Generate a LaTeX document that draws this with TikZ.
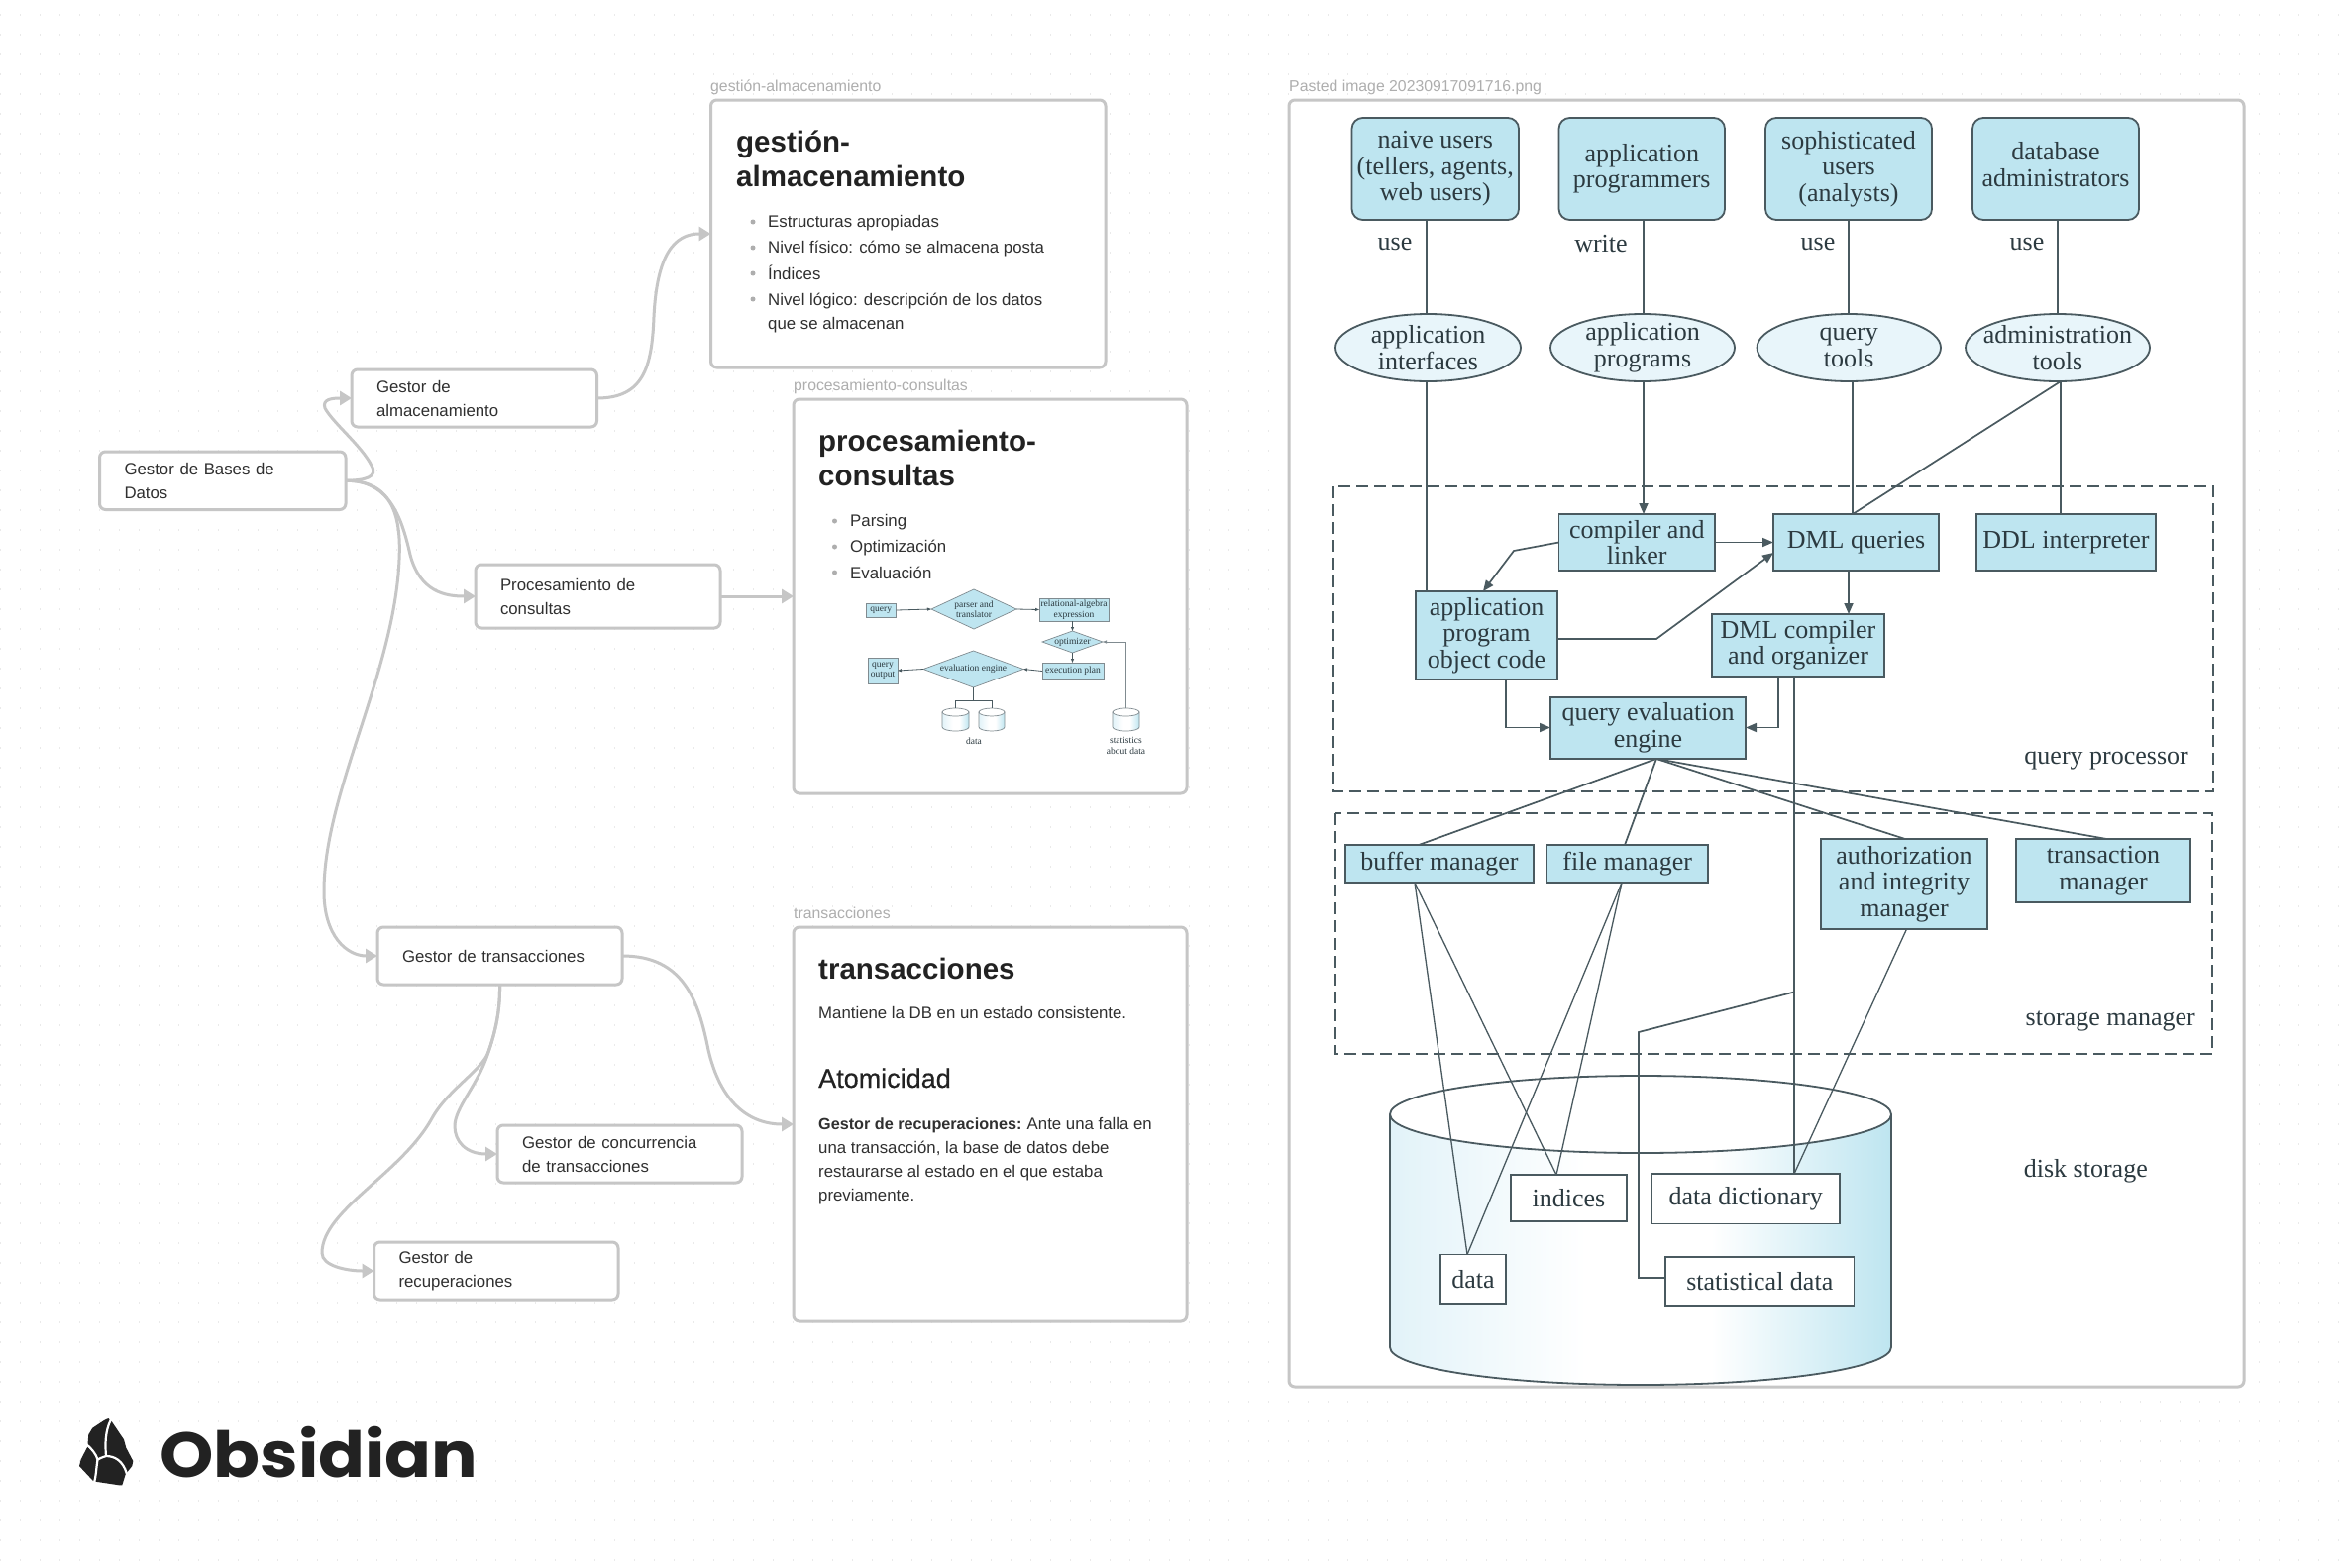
\documentclass[tikz,border=0pt]{standalone}
\usepackage{fontspec}
\usetikzlibrary{arrows.meta,shapes.geometric}
\setmainfont{Liberation Sans}
\newfontfamily\figfont{Liberation Serif}
\newfontfamily\logofont[FakeStretch=1.08]{Poppins}
\newfontfamily\semifont[FakeBold=0.5]{Liberation Sans}
\definecolor{edgegray}{HTML}{C6C6C6}
\definecolor{inkdark}{HTML}{222222}
\definecolor{inktext}{HTML}{303030}
\definecolor{labelgray}{HTML}{AEAEAE}
\definecolor{dotgray}{HTML}{EAEAEA}
\definecolor{figblue}{HTML}{BEE5F0}
\definecolor{figpale}{HTML}{E8F5FA}
\definecolor{figline}{HTML}{4A5A60}
\definecolor{figink}{HTML}{2C3A40}
\pgfdeclarehorizontalshading{cylshade}{100bp}{color(0bp)=(figpale!85!figblue);color(25bp)=(figpale!85!figblue);color(44.5bp)=(white);color(57bp)=(white);color(75bp)=(figblue);color(100bp)=(figblue)}
\newcommand{\bx}[7]{%
  \pgfmathsetmacro\cxv{(#3+#5)/2}\pgfmathsetmacro\cyv{(#4+#6)/2}%
  \pgfmathsetmacro\wv{#5-#3}\pgfmathsetmacro\hv{#6-#4}%
  \node[#1,minimum width=\wv pt,minimum height=\hv pt] (#2) at (\cxv,\cyv) {#7};}
\newcommand{\fs}[2]{\fontsize{#1}{#2}\selectfont}
\tikzset{
  x=1pt,y=-1pt,
  canvasbox/.style={draw=edgegray,line width=3pt,fill=white,rounded corners=6pt,outer sep=0pt,inner xsep=25pt,inner ysep=0pt,text width={\wv pt-50pt},align=left,text=inktext,font=\fs{16.8}{24}},
  card/.style={draw=edgegray,line width=3pt,fill=white,rounded corners=6pt,outer sep=0pt},
  link/.style={draw=edgegray,line width=3pt,-{Triangle[length=12pt,width=14pt]}},
  tag/.style={anchor=base west,text=labelgray,font=\fs{15.8}{18},inner sep=0pt},
  body/.style={anchor=base west,text=inktext,font=\fs{16.8}{24},inner sep=0pt,align=left},
  head/.style={anchor=base west,text=inkdark,font=\fs{29.5}{34.5}\bfseries,inner sep=0pt,align=left},
  bullet/.style={fill=labelgray},
  figbox/.style={draw=figline,line width=1.8pt,fill=figblue,outer sep=0pt,inner sep=0pt,align=center,text=figink,font=\figfont\fs{26}{26.5}},
  figround/.style={figbox,rounded corners=11pt},
  figell/.style={ellipse,draw=figline,line width=1.8pt,fill=figpale,outer sep=0pt,inner sep=0pt},
  figelltxt/.style={inner sep=0pt,align=center,text=figink,font=\figfont\fs{26}{26.5}},
  figwhite/.style={figbox,fill=white},
  figlabel/.style={text=figink,font=\figfont\fs{26}{26},inner sep=0pt},
  figln/.style={draw=figline,line width=1.7pt},
  figarr/.style={figln,-{Triangle[length=11pt,width=9pt]}},
  dashbox/.style={draw=figline,line width=2pt,dash pattern=on 12pt off 6pt},
  minibox/.style={draw=figline!70,line width=0.9pt,fill=figblue,outer sep=0pt,inner sep=0pt,align=center,text=figink,font=\figfont\fs{9.5}{10.5}},
  minidia/.style={diamond,draw=figline!70,line width=0.7pt,fill=figblue,outer sep=0pt,inner sep=0pt},
  minitxt/.style={inner sep=0pt,align=center,text=figink,font=\figfont\fs{9.5}{10.5}},
  miniln/.style={draw=figline,line width=0.8pt},
  miniarr/.style={miniln,-{Triangle[length=4pt,width=3pt]}},
}
\newcommand{\minicyl}[2]{%
  \pgfmathsetmacro\mcx{(#1+#2)/2}\pgfmathsetmacro\mrx{(#2-#1)/2}%
  \path[shading=cylshade,draw=figline!70,line width=0.7pt] (#1,719) -- (#1,734) arc[start angle=180,end angle=360,x radius=\mrx pt,y radius=4pt] -- (#2,719) -- cycle;
  \draw[figline!70,fill=white,line width=0.7pt] (\mcx,719) ellipse[x radius=\mrx pt,y radius=4pt];}
\begin{document}
\begin{tikzpicture}
\useasboundingbox (0,0) rectangle (2366,1582);
\fill[white] (0,0) rectangle (2366,1582);
% dot grid
\foreach \r in {0,...,78}{
  \draw[dotgray,line width=1.3pt,dash pattern=on 1.3pt off 18.7pt] (0,15+20*\r) -- (2366,15+20*\r);
}
% ---------- canvas cards
\bx{card}{cardA}{717.5}{101}{1116}{371}{}
\bx{card}{cardB}{801}{403}{1198}{801}{}
\bx{card}{cardC}{801}{936}{1198}{1334}{}
\bx{card}{cardD}{1301}{101}{2265}{1400}{}
\node[tag] (tagA) at (717,92) {gestión-almacenamiento};
\node[tag] (tagB) at (801,394) {procesamiento-consultas};
\node[tag] (tagC) at (801,927) {transacciones};
\node[tag] (tagD) at (1301,92) {Pasted image 20230917091716.png};
% card A
\node[head] (headA) at (743,188) {gestión-\\almacenamiento};
\foreach \yy in {224,250,276,302}{\fill[bullet] (760,\yy) circle[radius=2.5pt];}
\node[body] (a1) at (775,229.5) {Estructuras apropiadas};
\node[body] (a2) at (775,255.5) {Nivel físico: cómo se almacena posta};
\node[body] (a3) at (775,282) {Índices};
\node[body] (a4) at (775,332.5) {Nivel lógico: descripción de los datos\\que se almacenan};
% card B
\node[head] (headB) at (826,490) {procesamiento-\\consultas};
\foreach \yy in {526,552,578}{\fill[bullet] (842.5,\yy) circle[radius=2.5pt];}
\node[body] (b1) at (858,531.5) {Parsing};
\node[body] (b2) at (858,557.5) {Optimización};
\node[body] (b3) at (858,584) {Evaluación};
% card C
\node[head] (headC) at (826,988) {transacciones};
\node[body] (c1) at (826,1028.5) {Mantiene la DB en un estado consistente.};
\node[anchor=base west,inner sep=0pt,text=inkdark,font=\semifont\fs{27}{30}] (c2) at (826,1098) {Atomicidad};
\node[body] (c3) at (826,1212) {{\fs{16.2}{24}\bfseries Gestor de recuperaciones:}\hspace{-1pt} Ante una falla en\\una transacción, la base de datos debe\\restaurarse al estado en el que estaba\\previamente.};
% ---------- canvas nodes
\bx{canvasbox}{bases}{100.5}{456}{349}{514.5}{Gestor de Bases de\\Datos}
\bx{canvasbox}{alma}{355}{373}{602.5}{431}{Gestor de\\almacenamiento}
\bx{canvasbox}{proc}{480}{570}{727}{634}{Procesamiento de\\consultas}
\bx{canvasbox}{trans}{381}{936}{628}{994}{Gestor de transacciones}
\bx{canvasbox}{conc}{502}{1136}{749}{1194}{Gestor de concurrencia\\de transacciones}
\bx{canvasbox}{recu}{377.5}{1254}{624}{1312}{Gestor de\\recuperaciones}
% ---------- canvas edges
\coordinate (cardAin) at (cardA.west |- 0,236);
\coordinate (cardBin) at (cardB.west |- proc.east);
\coordinate (cardCin) at (cardC.west |- 0,1135);
\coordinate (tsplit) at (493,1062);
\draw[link] (bases.east) .. controls (368,485) and (382,482) .. (375,470) .. controls (365,450) and (336,427) .. (328,412) .. controls (325,403) and (335,402) .. (alma.west);
\draw[link] (bases.east) .. controls (392,485) and (405,520) .. (414,560) .. controls (424,598) and (450,602) .. (proc.west);
\draw[link] (bases.east) .. controls (398,485) and (405,525) .. (403,565) .. controls (398,680) and (327,800) .. (327,900) .. controls (327,945) and (350,965) .. (trans.west);
\draw[link] (alma.east) .. controls (650,402) and (658,370) .. (660,320) .. controls (663,258) and (680,236) .. (cardAin);
\draw[link] (proc.east) -- (cardBin);
\draw[link] (trans.east) .. controls (690,965) and (705,1010) .. (715,1060) .. controls (727,1112) and (755,1135) .. (cardCin);
\draw[link] (trans.south) .. controls (505,1020) and (500,1042) .. (tsplit) .. controls (483,1095) and (459,1118) .. (459,1137) .. controls (459,1152) and (470,1165) .. (conc.west);
\draw[link] (trans.south) .. controls (505,1020) and (500,1042) .. (tsplit) .. controls (487,1080) and (452,1100) .. (436,1129) .. controls (405,1185) and (325,1222) .. (325,1265) .. controls (325,1278) and (350,1283) .. (recu.west);
% ---------- mini diagram
\bx{minibox}{mquery}{874}{609}{904.5}{623}{query}
\bx{minidia}{mparser}{940}{595}{1026}{635}{}
\node[minitxt] (mparserl) at (mparser) {parser and\\translator};
\bx{minibox}{mrel}{1049}{604}{1119}{627}{relational-algebra\\expression}
\bx{minidia}{mopt}{1052}{637}{1113}{659}{}
\node[minitxt] (moptl) at (mopt) {optimizer};
\bx{minibox}{mexec}{1052}{669}{1114}{686}{execution plan}
\bx{minidia}{meval}{932}{657}{1033}{694}{}
\node[minitxt] (mevall) at (meval) {evaluation engine};
\bx{minibox}{mout}{876}{664}{906}{690}{query\\output}
\minicyl{951}{978}
\minicyl{988}{1014}
\minicyl{1123}{1150}
\coordinate (mjoin) at (982.5,707);
\coordinate (mdataA) at (964.5,715);
\coordinate (mdataB) at (1001,715);
\coordinate (mstat) at (1136.5,715);
\draw[miniarr] (mquery.east) -- (mparser.west);
\draw[miniarr] (mparser.east) -- (mrel.west);
\draw[miniarr] (mopt.north |- mrel.south) -- (mopt.north);
\draw[miniarr] (mopt.south) -- (mopt.south |- mexec.north);
\draw[miniarr] (mexec.west) -- (meval.east);
\draw[miniarr] (meval.west) -- (mout.east);
\draw[miniln] (meval.south) -- (mjoin);
\draw[miniln] (mdataA) -- (mdataA |- mjoin) -- (mdataB |- mjoin) -- (mdataB);
\draw[miniarr,draw=figline!70] (mstat) -- (mstat |- mopt.east) -- (mopt.east);
\node[minitxt] (mdata) at (983,748) {data};
\node[minitxt] (mstatl) at (1136.5,753) {statistics\\about data};
% ---------- big figure: cylinder
\path[shading=cylshade,draw=figline,line width=1.8pt] (1403,1126) -- (1403,1360) arc[start angle=180,end angle=360,x radius=253pt,y radius=38pt] -- (1909,1126) -- cycle;
\draw[figline,fill=white,line width=1.8pt] (1656,1125) ellipse[x radius=253pt,y radius=39pt];
% users
\bx{figround}{naive}{1364.5}{119}{1533}{222}{naive users\\(tellers, agents,\\web users)}
\bx{figround}{apppro}{1573.5}{119}{1741}{222}{application\\programmers}
\bx{figround}{soph}{1782}{119}{1950}{222}{sophisticated\\users\\(analysts)}
\bx{figround}{dba}{1991}{119}{2159}{222}{}
\node[figelltxt] (dbal) at (2075,166) {database\\administrators};
\bx{figell}{appif}{1348}{317}{1535}{385}{}
\bx{figell}{appprg}{1565}{317}{1751}{385}{}
\bx{figell}{qtools}{1773.5}{317}{1959}{385}{}
\bx{figell}{admin}{1984}{317}{2170}{385}{}
\node[figelltxt] (appifl) at (appif) {application\\interfaces};
\node[figelltxt] (appprgl) at (appprg) {application\\programs};
\node[figelltxt] (qtoolsl) at (qtools) {query\\tools};
\node[figelltxt] (adminl) at (admin) {administration\\tools};
\node[figlabel] (use1) at (1408,246) {use};
\node[figlabel] (wr) at (1616,246) {write};
\node[figlabel] (use2) at (1835,246) {use};
\node[figlabel] (use3) at (2046,246) {use};
% query processor
\bx{figbox}{compl}{1573.5}{519}{1731}{576}{compiler and\\linker}
\bx{figbox}{dml}{1790}{519}{1957}{576}{DML queries}
\bx{figbox}{ddl}{1995}{519}{2176}{576}{DDL interpreter}
\bx{figbox}{objc}{1429}{597}{1572}{686}{application\\program\\object code}
\bx{figbox}{dmlc}{1728}{620}{1902}{683}{DML compiler\\and organizer}
\bx{figbox}{qev}{1565}{704}{1762}{766}{query evaluation\\engine}
\node[figlabel,anchor=east] (qpl) at (2209,768) {query processor};
% storage manager
\bx{figbox}{buf}{1358}{853}{1548}{891}{buffer manager}
\bx{figbox}{filem}{1561.5}{853}{1724}{891}{file manager}
\bx{figbox}{auth}{1838}{847}{2006}{938}{authorization\\and integrity\\manager}
\bx{figbox}{tmgr}{2035}{847}{2211}{911}{transaction\\manager}
\node[figlabel,anchor=east] (sml) at (2216,1031) {storage manager};
\node[figlabel,anchor=east] (dsl) at (2168,1182) {disk storage};
% disk
\bx{figwhite}{ind}{1525}{1186}{1642}{1233}{indices}
\bx{figwhite}{dict}{1667.5}{1185}{1857}{1235.5}{data dictionary}
\bx{figwhite}{dat}{1454}{1266.5}{1520}{1316}{data}
\bx{figwhite}{stat}{1681}{1269}{1871.5}{1318}{statistical data}
% dashed regions
\draw[dashbox] (1345.5,491) rectangle (2234,799);
\draw[dashbox] (1347.5,821) rectangle (2233,1063.5);
% figure connectors
\draw[figln] (1440,0 |- naive.south) -- (1440,0 |- appif.north);
\draw[figln] (1659,0 |- apppro.south) -- (1659,0 |- appprg.north);
\draw[figln] (1866,0 |- soph.south) -- (1866,0 |- qtools.north);
\draw[figln] (2077,0 |- dba.south) -- (2077,0 |- admin.north);
\draw[figln] (1440,0 |- appif.south) -- (1440,0 |- objc.north);
\draw[figarr] (1659,0 |- appprg.south) -- (1659,0 |- compl.north);
\draw[figln] (1870,0 |- qtools.south) -- (1870,0 |- dml.north);
\draw[figln] (2080,0 |- admin.south) -- (1870,0 |- dml.north);
\draw[figln] (2080,0 |- admin.south) -- (2080,0 |- ddl.north);
\draw[figarr] (compl.east) -- (compl.east -| dml.west);
\coordinate (cbend) at (1528,556);
\draw[figarr] (compl.west) -- (cbend) -- (1497,0 |- objc.north);
\coordinate (obend) at (1672,645);
\draw[figarr] (objc.east |- obend) -- (obend) -- (1790,558);
\draw[figarr] (1866,0 |- dml.south) -- (1866,0 |- dmlc.north);
\coordinate (qin) at (qev.west |- 0,734.5);
\draw[figarr] (1520,0 |- objc.south) -- (1520,734.5) -- (qin);
\coordinate (qinr) at (qev.east |- 0,734.5);
\draw[figarr] (1795,0 |- dmlc.south) -- (1795,734.5) -- (qinr);
\coordinate (qapex) at (1672,0 |- qev.south);
\draw[figln] (qapex) -- (1432,0 |- buf.north);
\draw[figln] (qapex) -- (1640,0 |- filem.north);
\draw[figln] (qapex) -- (1923,0 |- auth.north);
\draw[figln] (qapex) -- (2126.5,0 |- tmgr.north);
\coordinate (dictin) at (1811,0 |- dict.north);
\coordinate (dbranch) at (1811,1001.5);
\coordinate (dbend) at (1654,1042);
\draw[figln,line width=1.3pt] (1811,0 |- dmlc.south) -- (dictin);
\draw[figln] (dbranch) -- (dbend) -- (1654,1290) -- (stat.west |- 0,1290);
\coordinate (bufout) at (1428,0 |- buf.south);
\coordinate (fileout) at (1637,0 |- filem.south);
\coordinate (datin) at (1481,0 |- dat.north);
\coordinate (indin) at (1571,0 |- ind.north);
\draw[figln,line width=1.3pt] (bufout) -- (datin);
\draw[figln,line width=1.3pt] (bufout) -- (indin);
\draw[figln,line width=1.3pt] (fileout) -- (datin);
\draw[figln,line width=1.3pt] (fileout) -- (indin);
\draw[figln,line width=1.3pt] (1924.5,0 |- auth.south) -- (dictin);
% ---------- logo
\path[fill=inkdark] (109.3,1432) -- (113.3,1436) -- (125,1453.3) -- (127.3,1461.7) -- (134.3,1475) -- (133.3,1480) -- (126.7,1488.3) -- (123.3,1499.3) -- (120,1499.3) -- (98.3,1496) -- (94,1495) -- (80,1480) -- (81.7,1473.3) -- (88.3,1460.7) -- (89.3,1448.3) -- (93.3,1441.7) -- (105,1434) -- cycle;
\draw[white,line width=2.2pt,line cap=round] (112,1433) .. controls (106,1445) and (106,1458) .. (107,1470);
\draw[white,line width=2.2pt] (87,1458) .. controls (92,1462) and (97,1468) .. (98.5,1473.5) .. controls (101,1472) and (104,1471) .. (107,1470) .. controls (115,1470) and (124,1474) .. (128,1488);
\draw[white,line width=2.2pt] (98.5,1473.5) .. controls (97,1483) and (97,1490) .. (95,1497);
\node[anchor=base west,inner sep=0pt,text=inkdark,font=\logofont\bfseries\fs{64}{64}] (logo) at (161,1491) {Obsidian};
\end{tikzpicture}
\end{document}
